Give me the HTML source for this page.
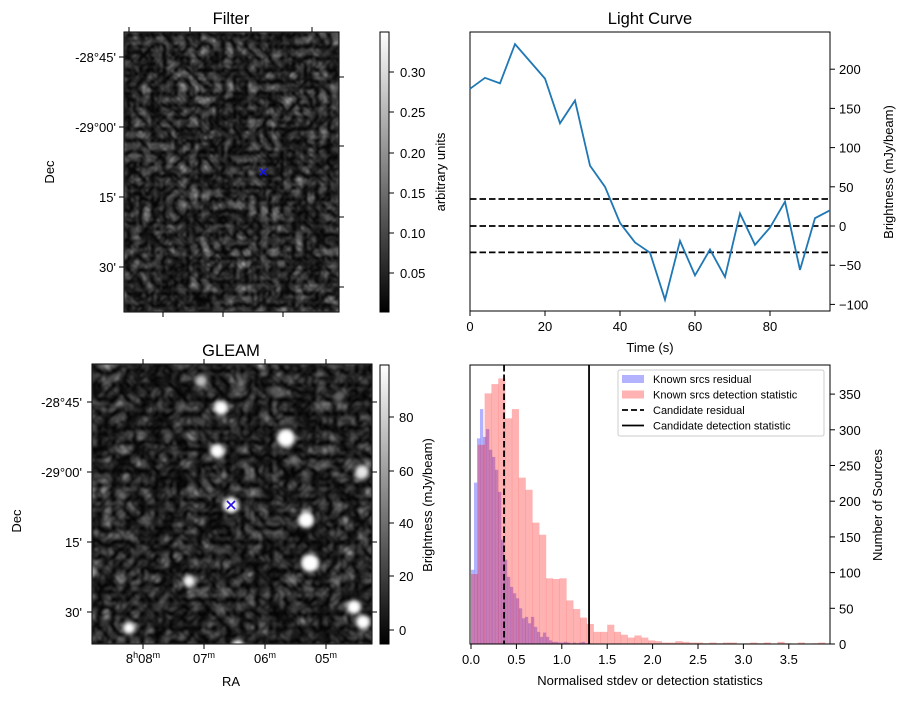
<!DOCTYPE html>
<html><head><meta charset="utf-8"><style>
body{margin:0;background:#fff}
svg text{font-family:"Liberation Sans","DejaVu Sans",sans-serif;fill:#000}
</style></head><body>
<svg id="fig" width="907" height="699" viewBox="0 0 907 699" xmlns="http://www.w3.org/2000/svg">
<defs>
<filter id="noise1" x="0" y="0" width="100%" height="100%" color-interpolation-filters="sRGB">
<feTurbulence type="turbulence" baseFrequency="0.085" numOctaves="2" seed="3"/>
<feColorMatrix type="matrix" values="0.55 0.3 0 0 0  0.55 0.3 0 0 0  0.55 0.3 0 0 0  0 0 0 0 1"/>
<feComponentTransfer><feFuncR type="gamma" amplitude="1.3" exponent="1.4"/><feFuncG type="gamma" amplitude="1.3" exponent="1.4"/><feFuncB type="gamma" amplitude="1.3" exponent="1.4"/></feComponentTransfer>
<feGaussianBlur stdDeviation="0.7"/>
</filter>
<filter id="noise2" x="0" y="0" width="100%" height="100%" color-interpolation-filters="sRGB">
<feTurbulence type="turbulence" baseFrequency="0.07" numOctaves="2" seed="11"/>
<feColorMatrix type="matrix" values="0.55 0.3 0 0 0  0.55 0.3 0 0 0  0.55 0.3 0 0 0  0 0 0 0 1"/>
<feComponentTransfer><feFuncR type="gamma" amplitude="1.2" exponent="1.4"/><feFuncG type="gamma" amplitude="1.2" exponent="1.4"/><feFuncB type="gamma" amplitude="1.2" exponent="1.4"/></feComponentTransfer>
<feGaussianBlur stdDeviation="0.9"/>
</filter>
<filter id="blur3" x="-50%" y="-50%" width="200%" height="200%"><feGaussianBlur stdDeviation="2.2"/></filter>
<linearGradient id="gray" x1="0" y1="1" x2="0" y2="0"><stop offset="0" stop-color="#000"/><stop offset="1" stop-color="#fff"/></linearGradient>
<clipPath id="clipG"><rect x="92" y="364" width="280" height="280"/></clipPath>
</defs>

<g>
<text x="231" y="24" font-size="16.5" text-anchor="middle">Filter</text>
<rect x="124" y="32" width="215" height="280" fill="#222" filter="url(#noise1)"/>
<rect x="124" y="32" width="215" height="280" fill="none" stroke="#000" stroke-width="1"/>
<g stroke="#1010ff" stroke-width="1.3">
<line x1="259.5" y1="168.5" x2="266.5" y2="175.5"/><line x1="259.5" y1="175.5" x2="266.5" y2="168.5"/></g>
<g font-size="13" text-anchor="end">
<text x="116" y="62">-28°45'</text><text x="116" y="132">-29°00'</text><text x="116" y="202">15'</text><text x="116" y="272">30'</text>
</g>
<g stroke="#000" stroke-width="1">
<line x1="119" y1="57" x2="124" y2="57"/><line x1="119" y1="127" x2="124" y2="127"/><line x1="119" y1="197" x2="124" y2="197"/><line x1="119" y1="267" x2="124" y2="267"/>
<line x1="339" y1="77" x2="344" y2="77"/><line x1="339" y1="146" x2="344" y2="146"/><line x1="339" y1="217" x2="344" y2="217"/><line x1="339" y1="287" x2="344" y2="287"/>
<line x1="129" y1="27" x2="129" y2="32"/><line x1="190" y1="27" x2="190" y2="32"/><line x1="251" y1="27" x2="251" y2="32"/><line x1="312" y1="27" x2="312" y2="32"/>
<line x1="163" y1="312" x2="163" y2="317"/><line x1="223" y1="312" x2="223" y2="317"/><line x1="283" y1="312" x2="283" y2="317"/>
</g>
<text transform="translate(54,172) rotate(-90)" font-size="13" text-anchor="middle">Dec</text>
<rect x="380" y="32" width="9" height="280" fill="url(#gray)" stroke="#000" stroke-width="1"/>
<g font-size="13" stroke="#000">
<line x1="389" y1="72" x2="394" y2="72"/><line x1="389" y1="112" x2="394" y2="112"/><line x1="389" y1="153" x2="394" y2="153"/><line x1="389" y1="193" x2="394" y2="193"/><line x1="389" y1="233" x2="394" y2="233"/><line x1="389" y1="273" x2="394" y2="273"/>
<g stroke="none"><text x="400" y="77">0.30</text><text x="400" y="117">0.25</text><text x="400" y="158">0.20</text><text x="400" y="198">0.15</text><text x="400" y="238">0.10</text><text x="400" y="278">0.05</text></g>
</g>
<text transform="translate(445,172) rotate(-90)" font-size="13" text-anchor="middle">arbitrary units</text>
</g>

<g>
<text x="231" y="356" font-size="16.5" text-anchor="middle">GLEAM</text>
<rect x="92" y="364" width="280" height="280" fill="#222" filter="url(#noise2)"/>
<g clip-path="url(#clipG)"><g id="sources" filter="url(#blur3)"></g></g>
<rect x="92" y="364" width="280" height="280" fill="none" stroke="#000" stroke-width="1"/>
<g stroke="#2a10e0" stroke-width="1.6">
<line x1="227" y1="501" x2="235" y2="509"/><line x1="227" y1="509" x2="235" y2="501"/></g>
<g font-size="13" text-anchor="end">
<text x="82" y="407">-28°45'</text><text x="82" y="477">-29°00'</text><text x="82" y="547">15'</text><text x="82" y="617">30'</text>
</g>
<g font-size="13" text-anchor="middle">
<text x="143" y="663">8<tspan font-size="9" dy="-5">h</tspan><tspan dy="5">08</tspan><tspan font-size="9" dy="-5">m</tspan></text>
<text x="204" y="663">07<tspan font-size="9" dy="-5">m</tspan></text>
<text x="265" y="663">06<tspan font-size="9" dy="-5">m</tspan></text>
<text x="326" y="663">05<tspan font-size="9" dy="-5">m</tspan></text>
</g>
<text x="231" y="686" font-size="13" text-anchor="middle">RA</text>
<text transform="translate(21,521) rotate(-90)" font-size="13" text-anchor="middle">Dec</text>
<g stroke="#000" stroke-width="1">
<line x1="87" y1="402" x2="92" y2="402"/><line x1="87" y1="472" x2="92" y2="472"/><line x1="87" y1="542" x2="92" y2="542"/><line x1="87" y1="612" x2="92" y2="612"/>
<line x1="372" y1="402" x2="377" y2="402"/><line x1="372" y1="472" x2="377" y2="472"/><line x1="372" y1="542" x2="377" y2="542"/><line x1="372" y1="612" x2="377" y2="612"/>
<line x1="143" y1="359" x2="143" y2="364"/><line x1="204" y1="359" x2="204" y2="364"/><line x1="265" y1="359" x2="265" y2="364"/><line x1="326" y1="359" x2="326" y2="364"/>
<line x1="143" y1="644" x2="143" y2="649"/><line x1="204" y1="644" x2="204" y2="649"/><line x1="265" y1="644" x2="265" y2="649"/><line x1="326" y1="644" x2="326" y2="649"/>
</g>
<rect x="380" y="365" width="9" height="279" fill="url(#gray)" stroke="#000" stroke-width="1"/>
<g font-size="13" stroke="#000">
<line x1="389" y1="417" x2="394" y2="417"/><line x1="389" y1="471" x2="394" y2="471"/><line x1="389" y1="523" x2="394" y2="523"/><line x1="389" y1="576" x2="394" y2="576"/><line x1="389" y1="630" x2="394" y2="630"/>
<g stroke="none"><text x="399" y="422">80</text><text x="399" y="476">60</text><text x="399" y="528">40</text><text x="399" y="581">20</text><text x="399" y="635">0</text></g>
</g>
<text transform="translate(432,505) rotate(-90)" font-size="13" text-anchor="middle">Brightness (mJy/beam)</text>
</g>

<g id="lc">
<text x="650" y="24" font-size="16.5" text-anchor="middle">Light Curve</text>
</g>
<g id="hist"></g>
</svg>
<script>
// ---- Light curve data ----
const lcTimes = [0,4,8,12,16,20,24,28,32,36,40,44,48,52,56,60,64,68,72,76,80,84,88,92,96];
const lcBrightness = [175,189,182,232,210,188,131,160,77,50,4,-21,-34,-94,-19,-63,-30,-65,16,-24,-2,31,-56,10,20];
const lcThresholds = [34.4,0,-33.6];
const lcXTicks = [0,20,40,60,80];
const lcYTicks = [-100,-50,0,50,100,150,200];

// ---- Histogram data ----
const redBinWidth = 0.075;
const redCounts = [98,279,351,364,372,316,329,233,216,170,153,92,91,92,61,49,37,28,17,17,27,17,13,9,12,9,5,4,2,2,4,3,2,2,1,2,1,2,2,0,1,2,1,2,0,3,1,0,2,0,1,2,0];
const blueBinWidth = 0.033;
const blueCounts = [104,226,288,329,290,301,272,262,244,213,146,118,94,80,71,64,50,36,38,29,38,24,17,10,16,10,5,3,3,2,2,3,2,1,2,1,2,3,1,1];
const candidateResidual = 0.364;
const candidateDetection = 1.30;
const histXTicks = [0,0.5,1.0,1.5,2.0,2.5,3.0,3.5];
const histYTicks = [0,50,100,150,200,250,300,350];

// ---- GLEAM sources ----
const gleamSources = [[201,381,6,0.75],[241,384,4,0.5],[221,408,7,1],[286,438,9,1],[217,451,7,1],[362,472,7,0.9],[231,505,8,1],[306,520,8,1],[310,563,9,1],[189,581,6,0.95],[354,607,7,1],[363,622,7,1],[129,628,6,1],[238,646,6,1],[339,397,5,0.4],[168,436,5,0.35],[294,460,5,0.45],[274,391,5,0.35],[92,572,5,0.6]];

const NS='http://www.w3.org/2000/svg';
function mk(tag, attrs, parent){const e=document.createElementNS(NS,tag);for(const k in attrs)e.setAttribute(k,attrs[k]);parent.appendChild(e);return e;}

const srcG=document.getElementById('sources');
gleamSources.forEach(s=>{
  const v=Math.round(255*s[3]);
  const c=mk('circle',{cx:s[0],cy:s[1],r:s[2],fill:`rgb(${v},${v},${v})`},srcG);
  
  
});

const lc=document.getElementById('lc');
const L={x0:470,x1:830,y0:32,y1:311};
const lx=t=>L.x0+(t-0)/96*(L.x1-L.x0);
const ly=v=>226-v*0.784;
mk('rect',{x:L.x0,y:L.y0,width:L.x1-L.x0,height:L.y1-L.y0,fill:'none',stroke:'#000','stroke-width':1},lc);
lcThresholds.forEach(v=>{
  const l=mk('line',{x1:L.x0,x2:L.x1,y1:ly(v),y2:ly(v),stroke:'#000','stroke-width':1.8,'stroke-dasharray':'6.5,3'},lc);
  
  
});
const path=mk('polyline',{points:lcTimes.map((t,i)=>lx(t)+','+ly(lcBrightness[i])).join(' '),fill:'none',stroke:'#1f77b4','stroke-width':1.8},lc);


lcXTicks.forEach(t=>{
  mk('line',{x1:lx(t),x2:lx(t),y1:L.y1,y2:L.y1+5,stroke:'#000'},lc);
  const tx=mk('text',{x:lx(t),y:L.y1+20,'font-size':13,'text-anchor':'middle'},lc);tx.textContent=t;
  
  
});
lcYTicks.forEach(v=>{
  mk('line',{x1:L.x1,x2:L.x1+5,y1:ly(v),y2:ly(v),stroke:'#000'},lc);
  const tx=mk('text',{x:L.x1+9,y:ly(v)+5,'font-size':13},lc);tx.textContent=(v<0?'\u2212'+(-v):v);
  
  
});
let t1=mk('text',{x:650,y:352,'font-size':13,'text-anchor':'middle'},lc);t1.textContent='Time (s)';


let t2=mk('text',{transform:'translate(893,172) rotate(-90)','font-size':13,'text-anchor':'middle'},lc);t2.textContent='Brightness (mJy/beam)';



const h=document.getElementById('hist');
const H={x0:470,x1:830,y0:365,y1:644};
const hx=v=>471+v*90.8;
const hy=c=>644-c*0.714;
function bars(counts,w,color,name){
  counts.forEach((c,i)=>{
    if(c<=0)return;
    const r=mk('rect',{x:hx(i*w),y:hy(c),width:hx((i+1)*w)-hx(i*w)+0.3,height:644-hy(c),fill:color},h);
    
    
  });
}
bars(blueCounts,blueBinWidth,'rgba(0,0,255,0.3)','residual-bar');
bars(redCounts,redBinWidth,'rgba(255,0,0,0.3)','detection-bar');
let vl=mk('line',{x1:hx(candidateResidual),x2:hx(candidateResidual),y1:H.y0,y2:H.y1,stroke:'#000','stroke-width':1.8,'stroke-dasharray':'6.5,3'},h);


let vs=mk('line',{x1:hx(candidateDetection),x2:hx(candidateDetection),y1:H.y0,y2:H.y1,stroke:'#000','stroke-width':1.8},h);


mk('rect',{x:H.x0,y:H.y0,width:H.x1-H.x0,height:H.y1-H.y0,fill:'none',stroke:'#000','stroke-width':1},h);
histXTicks.forEach(v=>{
  mk('line',{x1:hx(v),x2:hx(v),y1:H.y1,y2:H.y1+5,stroke:'#000'},h);
  const tx=mk('text',{x:hx(v),y:H.y1+20,'font-size':13,'text-anchor':'middle'},h);tx.textContent=v.toFixed(1);
  
  
});
histYTicks.forEach(v=>{
  mk('line',{x1:H.x1,x2:H.x1+5,y1:hy(v),y2:hy(v),stroke:'#000'},h);
  const tx=mk('text',{x:H.x1+9,y:hy(v)+5,'font-size':13},h);tx.textContent=v;
  
  
});
let t3=mk('text',{x:650,y:685,'font-size':13,'text-anchor':'middle'},h);t3.textContent='Normalised stdev or detection statistics';


let t4=mk('text',{transform:'translate(882,505) rotate(-90)','font-size':13,'text-anchor':'middle'},h);t4.textContent='Number of Sources';


const lg=mk('g',{},h);


mk('rect',{x:618,y:370,width:206,height:66,fill:'#fff','fill-opacity':0.85,stroke:'#ccc',rx:2},lg);
const entries=[['patch','rgba(0,0,255,0.3)','Known srcs residual'],['patch','rgba(255,0,0,0.3)','Known srcs detection statistic'],['dash','#000','Candidate residual'],['line','#000','Candidate detection statistic']];
entries.forEach((e,i)=>{
  const y=379+i*15.5;
  if(e[0]==='patch')mk('rect',{x:622,y:y-4,width:22,height:8,fill:e[1]},lg);
  else mk('line',{x1:622,x2:644,y1:y,y2:y,stroke:'#000','stroke-width':1.8,'stroke-dasharray':e[0]==='dash'?'6,3':'none'},lg);
  const tx=mk('text',{x:653,y:y+4,'font-size':11},lg);tx.textContent=e[2];
  
  
});
</script>
</body></html>
